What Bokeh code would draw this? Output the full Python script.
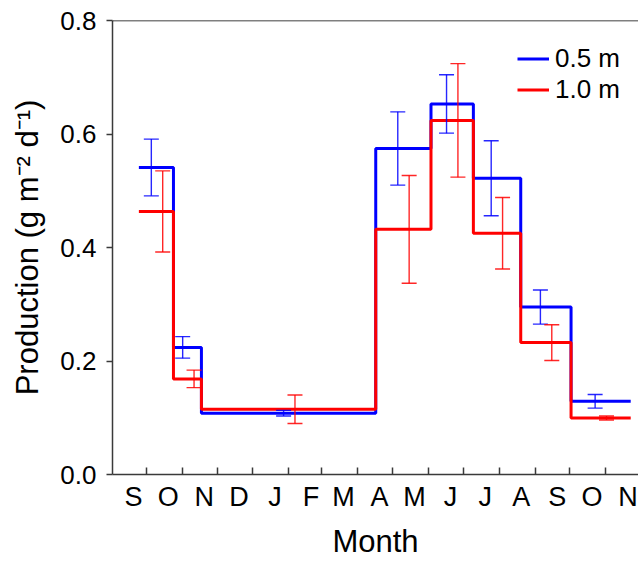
import pandas as pd
from bokeh.plotting import figure
from bokeh.models import (Range1d, FixedTicker, ColumnDataSource, Whisker, TeeHead,
                          Span, Legend, LegendItem, PrintfTickFormatter)
from bokeh.embed import file_html
from bokeh.resources import INLINE

# ---------------- data ----------------
month_labels = ["S", "O", "N", "D", "J", "F", "M", "A", "M", "J", "J", "A", "S", "O", "N"]
month_label_dates = ["2010-09-20", "2010-10-20", "2010-11-20", "2010-12-20", "2011-01-20",
                     "2011-02-20", "2011-03-20", "2011-04-20", "2011-05-20", "2011-06-20",
                     "2011-07-20", "2011-08-20", "2011-09-20", "2011-10-20", "2011-11-20"]
month_start_dates = ["2010-10-01", "2010-11-01", "2010-12-01", "2011-01-01", "2011-02-01",
                     "2011-03-01", "2011-04-01", "2011-05-01", "2011-06-01", "2011-07-01",
                     "2011-08-01", "2011-09-01", "2011-10-01", "2011-11-01"]

sample_dates = ["2010-10-10 08:00", "2010-11-06 08:00", "2011-02-01 06:00", "2011-05-10 14:00",
                "2011-06-21 14:00", "2011-07-30 01:00", "2011-09-10 10:00", "2011-10-27 13:00"]
step_edges = ["2010-09-24 17:00", "2010-10-24 12:00", "2010-11-17 14:00", "2011-04-16 17:00",
              "2011-06-03 07:00", "2011-07-09 19:00", "2011-08-19 14:00", "2011-10-01 22:00",
              "2011-11-22 07:00"]

mean_05 = [0.541, 0.224, 0.108, 0.5745, 0.653, 0.522, 0.295, 0.129]
sd_05 = [0.050, 0.019, 0.005, 0.0645, 0.0515, 0.066, 0.030, 0.012]
mean_10 = [0.4635, 0.1685, 0.115, 0.432, 0.624, 0.425, 0.2325, 0.0995]
sd_10 = [0.0715, 0.0155, 0.025, 0.095, 0.100, 0.063, 0.0315, 0.0035]

y_ticks = [0.0, 0.2, 0.4, 0.6, 0.8]

# ---------------- helpers ----------------
ORIGIN = pd.Timestamp("2010-09-01")


def day(s):
    return (pd.Timestamp(s) - ORIGIN) / pd.Timedelta(days=1)


DODGE = 4.9  # days, error-bar offset between series
FONT = "Liberation Sans"
BLUE = "#0000FF"
RED = "#FF0000"
AXIS_COL = "#3a3a3a"

edges = [day(s) for s in step_edges]
samples = [day(s) for s in sample_dates]

p = figure(width=638, height=561, output_backend="svg", toolbar_location=None,
           x_range=Range1d(day("2010-09-02"), day("2011-11-29")),
           y_range=Range1d(0, 0.8),
           min_border_left=112, min_border_right=0, min_border_top=20, min_border_bottom=86)
p.outline_line_color = None
p.grid.visible = False
p.background_fill_color = "white"
p.border_fill_color = "white"

# steps
r05 = p.step(edges, mean_05 + [mean_05[-1]], mode="after", line_color=BLUE, line_width=3)
r10 = p.step(edges, mean_10 + [mean_10[-1]], mode="after", line_color=RED, line_width=3)

# error bars
for means, sds, col, off in [(mean_05, sd_05, BLUE, -DODGE), (mean_10, sd_10, RED, DODGE)]:
    src = ColumnDataSource(dict(
        x=[s + off for s in samples],
        upper=[m + s for m, s in zip(means, sds)],
        lower=[m - s for m, s in zip(means, sds)],
    ))
    w = Whisker(source=src, base="x", upper="upper", lower="lower", dimension="height",
                line_color=col, line_width=1.4, line_alpha=0.85,
                upper_head=TeeHead(size=15, line_color=col, line_width=1.4, line_alpha=0.85),
                lower_head=TeeHead(size=15, line_color=col, line_width=1.4, line_alpha=0.85),
                level="annotation")
    p.add_layout(w)

# top frame line
p.add_layout(Span(location=0.8, dimension="width", line_color="black", line_width=1.5))

# x axis
xa = p.xaxis[0]
xa.ticker = FixedTicker(ticks=[day(s) for s in month_label_dates],
                        minor_ticks=[day(s) for s in month_start_dates])
xa.major_label_overrides = {day(s): lab for s, lab in zip(month_label_dates, month_labels)}
xa.major_tick_line_color = None
xa.major_tick_in = 0
xa.major_tick_out = 0
xa.minor_tick_in = 7
xa.minor_tick_out = 0
xa.minor_tick_line_color = AXIS_COL
xa.minor_tick_line_width = 1.5
xa.axis_line_color = AXIS_COL
xa.axis_line_width = 1.5
xa.major_label_text_font = FONT
xa.major_label_text_font_size = "27px"
xa.major_label_text_color = "black"
xa.major_label_standoff = 7
xa.axis_label = "Month"
xa.axis_label_text_font = FONT
xa.axis_label_text_font_size = "31px"
xa.axis_label_text_font_style = "normal"
xa.axis_label_text_color = "black"
xa.axis_label_standoff = 9

# y axis
ya = p.yaxis[0]
ya.ticker = FixedTicker(ticks=y_ticks, minor_ticks=[])
ya.formatter = PrintfTickFormatter(format="%.1f")
ya.major_tick_in = 0
ya.major_tick_out = 6
ya.major_tick_line_color = AXIS_COL
ya.major_tick_line_width = 1.5
ya.minor_tick_line_color = None
ya.axis_line_color = AXIS_COL
ya.axis_line_width = 1.5
ya.major_label_text_font = FONT
ya.major_label_text_font_size = "26px"
ya.major_label_text_color = "black"
ya.major_label_standoff = 10
ya.axis_label = "Production (g m\u207b\u00b2 d\u207b\u00b9)"
ya.axis_label_text_font = FONT
ya.axis_label_text_font_size = "31px"
ya.axis_label_text_font_style = "normal"
ya.axis_label_text_color = "black"
ya.axis_label_standoff = 12

# legend
legend = Legend(items=[LegendItem(label="0.5 m", renderers=[r05]),
                       LegendItem(label="1.0 m", renderers=[r10])],
                location=(405, 369), padding=0, margin=0, spacing=0,
                glyph_width=32, glyph_height=27, label_height=27, label_standoff=6,
                label_text_font=FONT, label_text_font_size="26px", label_text_color="black",
                border_line_color=None, background_fill_alpha=0)
p.add_layout(legend)

open("out.html", "w").write(file_html(p, INLINE))
